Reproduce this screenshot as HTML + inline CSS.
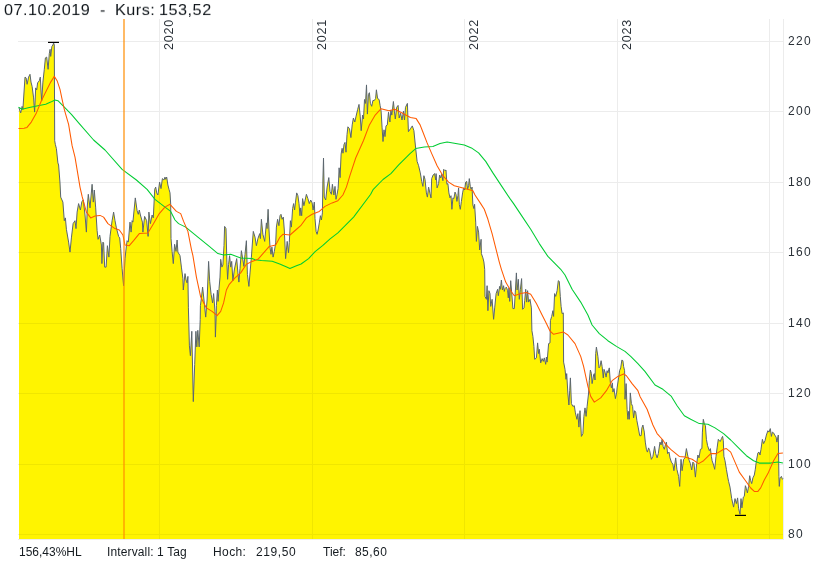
<!DOCTYPE html>
<html><head><meta charset="utf-8"><title>Chart</title>
<style>
html,body{margin:0;padding:0;background:#fff;}
body{width:839px;height:564px;position:relative;overflow:hidden;font-family:"Liberation Sans",sans-serif;color:#333a40;}
.t{position:absolute;white-space:nowrap;line-height:1;will-change:transform;}
.title{font-size:16px;top:3px;color:#10161b;}
.ax{font-size:12px;letter-spacing:1.3px;left:788.2px;color:#2a3138;}
.yr{color:#2a3138;font-size:12.5px;letter-spacing:0.8px;transform-origin:0 0;transform:rotate(-90deg);}
.ft{font-size:12px;top:546px;color:#151b20;}
</style></head><body>
<svg width="839" height="564" viewBox="0 0 839 564" style="position:absolute;left:0;top:0">
<g stroke="#ececec" stroke-width="1" shape-rendering="crispEdges">
<line x1="18" y1="41.5" x2="783" y2="41.5"/>
<line x1="18" y1="111.5" x2="783" y2="111.5"/>
<line x1="18" y1="182.5" x2="783" y2="182.5"/>
<line x1="18" y1="252.5" x2="783" y2="252.5"/>
<line x1="18" y1="323.5" x2="783" y2="323.5"/>
<line x1="18" y1="393.5" x2="783" y2="393.5"/>
<line x1="18" y1="464.5" x2="783" y2="464.5"/>
<line x1="18" y1="534.5" x2="783" y2="534.5"/>
<line x1="159.5" y1="19" x2="159.5" y2="539"/>
<line x1="312.5" y1="19" x2="312.5" y2="539"/>
<line x1="464.5" y1="19" x2="464.5" y2="539"/>
<line x1="617.5" y1="19" x2="617.5" y2="539"/>
<line x1="769.5" y1="19" x2="769.5" y2="539"/>
<line x1="783.5" y1="19" x2="783.5" y2="539"/>
<line x1="18" y1="539.5" x2="784" y2="539.5"/>
</g>
<path d="M19.0,107.9 L20.7,112.9 L22.1,106.4 L22.9,109.3 L25.0,77.1 L26.1,77.9 L27.1,84.3 L28.6,77.1 L30.0,74.3 L31.0,82.1 L32.1,86.4 L33.6,97.9 L34.6,112.1 L35.7,87.9 L36.7,90.0 L37.6,82.9 L39.3,80.7 L40.3,77.1 L41.1,92.1 L41.7,100.7 L42.9,82.1 L44.3,69.3 L45.4,57.9 L46.7,57.1 L48.1,69.3 L49.3,53.6 L50.1,49.3 L50.7,56.4 L51.9,46.4 L52.9,45.0 L53.6,42.9 L54.3,45.0 L54.7,140.7 L55.3,144.3 L56.4,148.6 L57.9,162.9 L58.6,165.0 L60.0,183.0 L60.7,197.1 L62.9,202.1 L64.3,220.7 L65.4,217.9 L66.4,229.3 L68.6,242.1 L70.0,252.1 L71.4,237.9 L73.1,223.6 L75.0,220.7 L76.0,228.6 L77.1,212.1 L78.6,203.6 L80.4,210.0 L81.9,201.4 L83.3,200.0 L85.0,215.0 L86.4,232.1 L87.4,205.0 L88.3,194.3 L90.0,207.9 L92.1,184.3 L93.3,202.1 L94.3,190.0 L95.7,207.9 L97.1,230.7 L98.1,239.3 L99.7,235.0 L101.4,245.0 L101.9,263.6 L102.9,242.1 L103.6,242.9 L104.7,267.1 L106.1,267.1 L107.4,245.7 L108.9,257.1 L110.0,236.4 L112.1,220.7 L113.6,212.1 L115.0,220.7 L116.4,227.9 L118.6,236.4 L119.7,237.9 L120.7,248.6 L122.1,268.6 L123.6,285.7 L125.0,258.6 L126.4,246.0 L127.1,240.7 L128.3,242.1 L130.0,222.1 L131.1,232.1 L132.1,220.7 L132.9,222.1 L135.3,197.9 L137.1,210.7 L138.3,214.3 L139.3,210.0 L140.4,215.0 L142.4,222.1 L142.9,232.1 L144.6,216.4 L146.7,220.7 L148.1,236.4 L148.9,212.1 L150.4,223.6 L152.1,215.0 L153.3,217.9 L154.7,189.3 L155.7,187.1 L156.7,192.9 L157.9,195.0 L159.6,182.1 L161.0,188.6 L162.4,178.6 L163.9,180.0 L165.0,177.1 L165.7,179.3 L166.7,177.1 L167.9,185.0 L169.0,189.3 L170.0,192.9 L170.7,204.3 L171.0,238.6 L172.1,251.4 L173.3,263.6 L174.6,244.3 L176.0,251.4 L177.1,240.0 L177.9,252.1 L180.0,255.7 L181.4,267.1 L182.9,278.6 L183.3,290.0 L184.0,282.9 L185.0,273.6 L186.1,280.0 L187.1,282.9 L187.9,276.4 L188.4,307.8 L189.4,345.9 L190.4,355.7 L191.8,331.3 L193.3,401.6 L194.7,364.5 L195.9,331.3 L196.8,346.9 L197.8,330.3 L199.2,346.9 L200.2,319.5 L200.4,305.7 L201.4,297.9 L202.6,287.1 L204.3,302.9 L205.7,317.1 L207.1,300.0 L208.6,261.4 L209.7,281.4 L211.1,294.3 L212.6,302.9 L213.6,293.6 L215.0,311.4 L215.4,337.1 L216.2,315.6 L216.4,305.7 L217.4,290.0 L218.1,301.4 L219.0,288.6 L220.0,277.1 L220.7,259.3 L221.9,267.1 L222.9,265.0 L224.0,245.7 L224.6,226.4 L226.0,228.6 L226.9,262.9 L227.6,279.3 L228.6,264.3 L229.6,255.7 L230.7,267.1 L231.7,261.4 L232.9,280.7 L234.3,270.0 L235.3,265.0 L236.7,258.6 L237.9,272.9 L238.9,282.1 L240.0,268.6 L241.4,250.7 L242.9,260.0 L243.9,266.4 L245.0,254.3 L246.4,240.7 L247.4,274.3 L248.9,286.4 L250.0,272.9 L251.4,257.1 L252.6,240.0 L253.3,231.4 L255.0,237.1 L256.4,245.7 L257.9,238.6 L259.7,233.6 L260.4,238.6 L261.4,219.3 L262.9,234.3 L264.7,241.4 L266.4,222.9 L267.1,228.6 L268.1,209.3 L269.0,230.0 L270.0,247.1 L271.0,254.3 L271.9,247.1 L273.1,257.1 L274.3,251.4 L275.7,242.9 L276.4,227.1 L277.6,219.3 L278.9,225.7 L280.0,215.7 L281.0,214.3 L282.1,219.3 L283.3,217.1 L284.3,230.0 L285.6,258.6 L287.2,241.4 L288.5,252.7 L289.3,242.5 L290.4,220.7 L291.4,227.1 L292.6,208.6 L293.6,203.6 L294.6,210.0 L295.4,202.9 L296.7,192.9 L297.9,195.7 L299.0,203.6 L300.0,215.7 L300.7,207.9 L301.7,215.7 L302.6,198.6 L303.9,205.7 L305.0,200.7 L306.4,194.3 L307.9,198.6 L309.3,203.6 L310.7,200.0 L312.1,202.9 L313.1,210.0 L314.3,202.1 L315.0,218.6 L316.1,231.4 L317.1,234.3 L318.1,230.0 L319.3,222.9 L320.4,215.7 L321.4,220.0 L322.4,212.9 L322.9,180.0 L323.5,158.0 L324.3,197.1 L325.7,200.0 L327.1,187.1 L328.8,177.6 L330.0,191.4 L331.4,194.3 L332.4,184.3 L333.9,195.0 L335.0,186.4 L336.0,199.3 L337.1,194.3 L338.1,188.6 L338.6,180.0 L339.1,167.8 L340.1,177.6 L341.1,154.1 L342.1,148.3 L343.0,153.2 L344.0,144.4 L345.0,142.4 L346.0,152.2 L347.0,134.6 L347.9,126.8 L349.5,128.8 L350.9,137.6 L352.2,124.9 L353.4,118.0 L354.8,122.0 L356.1,116.1 L357.7,109.3 L359.0,104.4 L360.2,116.1 L361.2,130.7 L362.6,115.1 L363.5,119.0 L364.5,99.5 L365.5,103.4 L366.5,84.9 L367.4,114.1 L368.4,94.6 L369.4,92.7 L370.4,103.4 L371.7,106.3 L372.9,100.5 L374.3,100.5 L375.6,98.5 L376.4,89.8 L377.6,98.5 L379.1,99.5 L380.1,105.4 L381.1,111.2 L382.1,127.8 L383.0,141.5 L384.0,129.8 L385.0,136.6 L386.0,125.9 L387.3,124.9 L388.5,112.2 L389.9,122.0 L390.9,110.2 L391.8,115.1 L393.4,101.5 L394.4,111.2 L395.3,119.0 L396.7,107.3 L398.1,105.4 L399.2,118.0 L400.6,113.2 L402.0,120.0 L403.5,111.2 L404.5,120.0 L405.5,107.3 L407.4,103.4 L408.4,131.7 L410.4,128.8 L412.3,125.9 L413.9,130.7 L415.7,148.6 L417.1,161.4 L418.6,165.7 L420.3,172.9 L421.7,181.4 L422.9,186.4 L423.9,175.7 L425.0,179.3 L426.4,192.9 L427.4,197.1 L428.6,187.1 L430.0,193.6 L431.0,197.9 L431.7,178.6 L433.1,175.0 L434.6,173.6 L435.7,180.0 L436.1,173.6 L437.1,187.9 L438.6,183.6 L439.6,175.0 L440.7,177.9 L441.7,174.3 L442.9,180.7 L443.7,169.3 L445.0,170.7 L446.0,170.0 L446.9,184.3 L447.9,183.6 L448.9,192.9 L450.0,197.9 L451.0,195.7 L451.9,209.3 L452.9,197.9 L453.9,198.6 L455.0,192.1 L456.0,194.3 L456.9,201.4 L457.9,195.7 L458.6,187.9 L459.3,204.3 L460.3,209.3 L461.4,201.4 L462.6,192.9 L463.6,187.9 L464.7,190.0 L465.7,182.1 L466.7,181.4 L467.6,189.3 L468.6,185.7 L469.3,178.6 L470.3,186.4 L471.1,189.3 L472.1,187.1 L472.4,195.0 L472.9,205.0 L473.9,208.6 L474.6,204.3 L475.7,222.1 L476.4,241.4 L477.4,226.4 L478.6,232.1 L479.7,250.0 L481.1,239.3 L481.4,253.6 L482.9,257.9 L483.9,262.0 L484.7,269.3 L485.0,296.4 L486.4,299.3 L487.1,285.7 L487.9,310.7 L488.9,290.7 L490.0,293.6 L490.7,306.4 L492.1,299.3 L493.6,319.3 L494.7,307.9 L496.1,293.6 L497.6,289.3 L498.3,295.7 L499.6,286.4 L500.4,289.3 L501.4,280.0 L502.4,290.0 L503.6,285.7 L504.3,291.4 L505.0,288.6 L506.4,287.1 L507.6,290.7 L508.3,297.9 L509.0,287.9 L509.7,301.4 L510.7,280.7 L511.9,295.0 L512.9,308.6 L514.3,308.6 L515.3,292.1 L516.4,272.9 L517.1,290.0 L518.3,279.3 L519.3,299.3 L520.4,289.3 L521.6,278.6 L522.6,309.3 L524.0,307.9 L524.7,300.7 L525.7,289.3 L526.7,302.1 L527.6,290.7 L528.6,302.1 L530.0,299.3 L531.4,307.9 L531.9,330.7 L532.9,336.4 L533.9,346.4 L534.7,359.3 L536.4,357.9 L537.6,342.9 L538.6,353.6 L539.3,349.3 L540.7,362.9 L542.1,358.6 L543.3,361.4 L544.3,357.9 L545.7,364.3 L546.4,357.1 L547.1,362.1 L548.6,343.6 L550.0,342.9 L550.4,320.7 L551.7,316.4 L552.9,310.7 L553.6,316.4 L554.6,293.6 L555.7,296.4 L557.1,290.7 L558.3,280.7 L559.3,281.4 L560.3,296.4 L561.1,306.4 L562.1,313.6 L563.3,312.9 L563.6,362.1 L565.0,369.3 L566.0,379.3 L566.7,373.6 L567.9,393.6 L568.9,405.0 L569.7,390.7 L570.4,377.9 L571.4,403.6 L572.9,406.4 L574.3,405.7 L575.4,412.9 L576.9,419.3 L577.9,413.6 L578.9,427.1 L580.0,410.7 L581.4,436.4 L582.9,433.6 L583.9,416.4 L585.0,407.9 L586.1,416.4 L587.1,406.4 L588.6,393.0 L589.3,380.7 L590.4,370.0 L591.4,373.6 L592.1,383.6 L593.6,375.0 L594.3,373.6 L595.0,380.0 L595.7,353.6 L596.4,347.1 L597.9,356.4 L599.0,367.9 L600.0,366.4 L601.1,360.7 L602.1,366.4 L603.3,377.9 L604.0,369.3 L605.0,372.1 L606.1,377.1 L607.1,370.7 L607.9,372.9 L609.3,367.9 L610.3,382.1 L611.4,387.9 L612.4,382.9 L612.9,392.1 L614.0,388.6 L615.4,398.6 L616.7,392.1 L617.1,387.9 L618.6,377.9 L619.6,370.7 L620.7,367.9 L621.9,360.0 L622.9,360.7 L623.6,366.4 L624.6,370.7 L625.0,399.3 L626.1,383.6 L627.1,409.3 L627.9,419.3 L628.6,411.4 L629.3,419.3 L630.3,392.9 L631.4,403.6 L632.6,406.4 L633.6,417.9 L634.6,410.7 L635.7,412.1 L636.9,420.7 L638.3,427.9 L639.7,435.7 L641.1,435.7 L641.9,427.9 L642.9,425.0 L644.3,432.1 L645.3,442.1 L646.4,449.3 L647.4,452.1 L648.6,447.9 L649.7,450.7 L651.4,459.3 L652.9,456.4 L654.6,446.4 L655.7,453.6 L657.1,457.9 L658.3,453.6 L660.0,442.1 L661.1,445.0 L662.1,439.3 L663.1,446.4 L664.3,449.3 L665.4,445.0 L666.4,442.1 L667.6,453.6 L669.0,452.1 L670.0,457.9 L671.4,462.1 L672.9,464.3 L673.9,470.7 L675.7,457.9 L676.9,469.3 L678.6,476.4 L679.7,486.4 L681.0,459.3 L682.1,470.7 L683.6,459.3 L685.0,457.9 L686.4,448.6 L687.9,456.4 L689.3,460.7 L690.4,463.6 L691.7,470.0 L692.9,462.1 L694.0,463.6 L695.4,477.1 L696.7,463.6 L697.9,455.0 L699.0,457.9 L700.4,449.3 L701.9,448.6 L702.4,432.1 L703.3,419.3 L704.3,423.6 L705.4,425.7 L706.4,439.3 L707.6,445.7 L709.3,450.7 L710.4,448.6 L711.4,456.4 L712.1,460.7 L713.6,465.0 L714.7,469.3 L716.0,456.4 L717.1,447.9 L718.3,439.3 L719.3,440.7 L720.4,441.4 L721.4,438.6 L722.6,436.4 L723.3,440.7 L723.9,456.4 L725.0,460.7 L726.4,469.3 L727.9,477.9 L728.6,481.4 L730.0,487.1 L731.7,498.6 L733.6,507.1 L735.0,498.6 L736.4,503.6 L737.6,497.9 L738.6,508.6 L740.0,514.3 L741.0,498.6 L741.9,507.9 L743.3,497.1 L744.3,496.4 L745.4,485.7 L746.4,488.6 L747.4,492.9 L748.6,486.4 L749.7,475.7 L750.7,480.7 L751.7,483.6 L752.9,477.9 L754.3,475.0 L755.3,469.3 L756.4,460.7 L757.9,452.9 L759.0,452.1 L760.0,455.0 L761.0,449.3 L762.4,439.3 L763.6,443.6 L765.0,440.7 L766.4,435.0 L767.9,430.7 L769.0,432.1 L770.3,428.6 L771.4,436.4 L772.4,432.1 L773.6,432.9 L774.7,435.0 L776.1,437.1 L776.9,442.1 L778.3,435.0 L778.9,476.4 L779.3,486.4 L780.0,477.9 L781.4,476.4 L782.4,479.3 L783.0,478.6 L783,539 L19,539 Z" fill="#fff400" stroke="none"/>
<g stroke="#f0e600" stroke-width="1" shape-rendering="crispEdges" clip-path="url(#ac)">
<clipPath id="ac"><path d="M19.0,107.9 L20.7,112.9 L22.1,106.4 L22.9,109.3 L25.0,77.1 L26.1,77.9 L27.1,84.3 L28.6,77.1 L30.0,74.3 L31.0,82.1 L32.1,86.4 L33.6,97.9 L34.6,112.1 L35.7,87.9 L36.7,90.0 L37.6,82.9 L39.3,80.7 L40.3,77.1 L41.1,92.1 L41.7,100.7 L42.9,82.1 L44.3,69.3 L45.4,57.9 L46.7,57.1 L48.1,69.3 L49.3,53.6 L50.1,49.3 L50.7,56.4 L51.9,46.4 L52.9,45.0 L53.6,42.9 L54.3,45.0 L54.7,140.7 L55.3,144.3 L56.4,148.6 L57.9,162.9 L58.6,165.0 L60.0,183.0 L60.7,197.1 L62.9,202.1 L64.3,220.7 L65.4,217.9 L66.4,229.3 L68.6,242.1 L70.0,252.1 L71.4,237.9 L73.1,223.6 L75.0,220.7 L76.0,228.6 L77.1,212.1 L78.6,203.6 L80.4,210.0 L81.9,201.4 L83.3,200.0 L85.0,215.0 L86.4,232.1 L87.4,205.0 L88.3,194.3 L90.0,207.9 L92.1,184.3 L93.3,202.1 L94.3,190.0 L95.7,207.9 L97.1,230.7 L98.1,239.3 L99.7,235.0 L101.4,245.0 L101.9,263.6 L102.9,242.1 L103.6,242.9 L104.7,267.1 L106.1,267.1 L107.4,245.7 L108.9,257.1 L110.0,236.4 L112.1,220.7 L113.6,212.1 L115.0,220.7 L116.4,227.9 L118.6,236.4 L119.7,237.9 L120.7,248.6 L122.1,268.6 L123.6,285.7 L125.0,258.6 L126.4,246.0 L127.1,240.7 L128.3,242.1 L130.0,222.1 L131.1,232.1 L132.1,220.7 L132.9,222.1 L135.3,197.9 L137.1,210.7 L138.3,214.3 L139.3,210.0 L140.4,215.0 L142.4,222.1 L142.9,232.1 L144.6,216.4 L146.7,220.7 L148.1,236.4 L148.9,212.1 L150.4,223.6 L152.1,215.0 L153.3,217.9 L154.7,189.3 L155.7,187.1 L156.7,192.9 L157.9,195.0 L159.6,182.1 L161.0,188.6 L162.4,178.6 L163.9,180.0 L165.0,177.1 L165.7,179.3 L166.7,177.1 L167.9,185.0 L169.0,189.3 L170.0,192.9 L170.7,204.3 L171.0,238.6 L172.1,251.4 L173.3,263.6 L174.6,244.3 L176.0,251.4 L177.1,240.0 L177.9,252.1 L180.0,255.7 L181.4,267.1 L182.9,278.6 L183.3,290.0 L184.0,282.9 L185.0,273.6 L186.1,280.0 L187.1,282.9 L187.9,276.4 L188.4,307.8 L189.4,345.9 L190.4,355.7 L191.8,331.3 L193.3,401.6 L194.7,364.5 L195.9,331.3 L196.8,346.9 L197.8,330.3 L199.2,346.9 L200.2,319.5 L200.4,305.7 L201.4,297.9 L202.6,287.1 L204.3,302.9 L205.7,317.1 L207.1,300.0 L208.6,261.4 L209.7,281.4 L211.1,294.3 L212.6,302.9 L213.6,293.6 L215.0,311.4 L215.4,337.1 L216.2,315.6 L216.4,305.7 L217.4,290.0 L218.1,301.4 L219.0,288.6 L220.0,277.1 L220.7,259.3 L221.9,267.1 L222.9,265.0 L224.0,245.7 L224.6,226.4 L226.0,228.6 L226.9,262.9 L227.6,279.3 L228.6,264.3 L229.6,255.7 L230.7,267.1 L231.7,261.4 L232.9,280.7 L234.3,270.0 L235.3,265.0 L236.7,258.6 L237.9,272.9 L238.9,282.1 L240.0,268.6 L241.4,250.7 L242.9,260.0 L243.9,266.4 L245.0,254.3 L246.4,240.7 L247.4,274.3 L248.9,286.4 L250.0,272.9 L251.4,257.1 L252.6,240.0 L253.3,231.4 L255.0,237.1 L256.4,245.7 L257.9,238.6 L259.7,233.6 L260.4,238.6 L261.4,219.3 L262.9,234.3 L264.7,241.4 L266.4,222.9 L267.1,228.6 L268.1,209.3 L269.0,230.0 L270.0,247.1 L271.0,254.3 L271.9,247.1 L273.1,257.1 L274.3,251.4 L275.7,242.9 L276.4,227.1 L277.6,219.3 L278.9,225.7 L280.0,215.7 L281.0,214.3 L282.1,219.3 L283.3,217.1 L284.3,230.0 L285.6,258.6 L287.2,241.4 L288.5,252.7 L289.3,242.5 L290.4,220.7 L291.4,227.1 L292.6,208.6 L293.6,203.6 L294.6,210.0 L295.4,202.9 L296.7,192.9 L297.9,195.7 L299.0,203.6 L300.0,215.7 L300.7,207.9 L301.7,215.7 L302.6,198.6 L303.9,205.7 L305.0,200.7 L306.4,194.3 L307.9,198.6 L309.3,203.6 L310.7,200.0 L312.1,202.9 L313.1,210.0 L314.3,202.1 L315.0,218.6 L316.1,231.4 L317.1,234.3 L318.1,230.0 L319.3,222.9 L320.4,215.7 L321.4,220.0 L322.4,212.9 L322.9,180.0 L323.5,158.0 L324.3,197.1 L325.7,200.0 L327.1,187.1 L328.8,177.6 L330.0,191.4 L331.4,194.3 L332.4,184.3 L333.9,195.0 L335.0,186.4 L336.0,199.3 L337.1,194.3 L338.1,188.6 L338.6,180.0 L339.1,167.8 L340.1,177.6 L341.1,154.1 L342.1,148.3 L343.0,153.2 L344.0,144.4 L345.0,142.4 L346.0,152.2 L347.0,134.6 L347.9,126.8 L349.5,128.8 L350.9,137.6 L352.2,124.9 L353.4,118.0 L354.8,122.0 L356.1,116.1 L357.7,109.3 L359.0,104.4 L360.2,116.1 L361.2,130.7 L362.6,115.1 L363.5,119.0 L364.5,99.5 L365.5,103.4 L366.5,84.9 L367.4,114.1 L368.4,94.6 L369.4,92.7 L370.4,103.4 L371.7,106.3 L372.9,100.5 L374.3,100.5 L375.6,98.5 L376.4,89.8 L377.6,98.5 L379.1,99.5 L380.1,105.4 L381.1,111.2 L382.1,127.8 L383.0,141.5 L384.0,129.8 L385.0,136.6 L386.0,125.9 L387.3,124.9 L388.5,112.2 L389.9,122.0 L390.9,110.2 L391.8,115.1 L393.4,101.5 L394.4,111.2 L395.3,119.0 L396.7,107.3 L398.1,105.4 L399.2,118.0 L400.6,113.2 L402.0,120.0 L403.5,111.2 L404.5,120.0 L405.5,107.3 L407.4,103.4 L408.4,131.7 L410.4,128.8 L412.3,125.9 L413.9,130.7 L415.7,148.6 L417.1,161.4 L418.6,165.7 L420.3,172.9 L421.7,181.4 L422.9,186.4 L423.9,175.7 L425.0,179.3 L426.4,192.9 L427.4,197.1 L428.6,187.1 L430.0,193.6 L431.0,197.9 L431.7,178.6 L433.1,175.0 L434.6,173.6 L435.7,180.0 L436.1,173.6 L437.1,187.9 L438.6,183.6 L439.6,175.0 L440.7,177.9 L441.7,174.3 L442.9,180.7 L443.7,169.3 L445.0,170.7 L446.0,170.0 L446.9,184.3 L447.9,183.6 L448.9,192.9 L450.0,197.9 L451.0,195.7 L451.9,209.3 L452.9,197.9 L453.9,198.6 L455.0,192.1 L456.0,194.3 L456.9,201.4 L457.9,195.7 L458.6,187.9 L459.3,204.3 L460.3,209.3 L461.4,201.4 L462.6,192.9 L463.6,187.9 L464.7,190.0 L465.7,182.1 L466.7,181.4 L467.6,189.3 L468.6,185.7 L469.3,178.6 L470.3,186.4 L471.1,189.3 L472.1,187.1 L472.4,195.0 L472.9,205.0 L473.9,208.6 L474.6,204.3 L475.7,222.1 L476.4,241.4 L477.4,226.4 L478.6,232.1 L479.7,250.0 L481.1,239.3 L481.4,253.6 L482.9,257.9 L483.9,262.0 L484.7,269.3 L485.0,296.4 L486.4,299.3 L487.1,285.7 L487.9,310.7 L488.9,290.7 L490.0,293.6 L490.7,306.4 L492.1,299.3 L493.6,319.3 L494.7,307.9 L496.1,293.6 L497.6,289.3 L498.3,295.7 L499.6,286.4 L500.4,289.3 L501.4,280.0 L502.4,290.0 L503.6,285.7 L504.3,291.4 L505.0,288.6 L506.4,287.1 L507.6,290.7 L508.3,297.9 L509.0,287.9 L509.7,301.4 L510.7,280.7 L511.9,295.0 L512.9,308.6 L514.3,308.6 L515.3,292.1 L516.4,272.9 L517.1,290.0 L518.3,279.3 L519.3,299.3 L520.4,289.3 L521.6,278.6 L522.6,309.3 L524.0,307.9 L524.7,300.7 L525.7,289.3 L526.7,302.1 L527.6,290.7 L528.6,302.1 L530.0,299.3 L531.4,307.9 L531.9,330.7 L532.9,336.4 L533.9,346.4 L534.7,359.3 L536.4,357.9 L537.6,342.9 L538.6,353.6 L539.3,349.3 L540.7,362.9 L542.1,358.6 L543.3,361.4 L544.3,357.9 L545.7,364.3 L546.4,357.1 L547.1,362.1 L548.6,343.6 L550.0,342.9 L550.4,320.7 L551.7,316.4 L552.9,310.7 L553.6,316.4 L554.6,293.6 L555.7,296.4 L557.1,290.7 L558.3,280.7 L559.3,281.4 L560.3,296.4 L561.1,306.4 L562.1,313.6 L563.3,312.9 L563.6,362.1 L565.0,369.3 L566.0,379.3 L566.7,373.6 L567.9,393.6 L568.9,405.0 L569.7,390.7 L570.4,377.9 L571.4,403.6 L572.9,406.4 L574.3,405.7 L575.4,412.9 L576.9,419.3 L577.9,413.6 L578.9,427.1 L580.0,410.7 L581.4,436.4 L582.9,433.6 L583.9,416.4 L585.0,407.9 L586.1,416.4 L587.1,406.4 L588.6,393.0 L589.3,380.7 L590.4,370.0 L591.4,373.6 L592.1,383.6 L593.6,375.0 L594.3,373.6 L595.0,380.0 L595.7,353.6 L596.4,347.1 L597.9,356.4 L599.0,367.9 L600.0,366.4 L601.1,360.7 L602.1,366.4 L603.3,377.9 L604.0,369.3 L605.0,372.1 L606.1,377.1 L607.1,370.7 L607.9,372.9 L609.3,367.9 L610.3,382.1 L611.4,387.9 L612.4,382.9 L612.9,392.1 L614.0,388.6 L615.4,398.6 L616.7,392.1 L617.1,387.9 L618.6,377.9 L619.6,370.7 L620.7,367.9 L621.9,360.0 L622.9,360.7 L623.6,366.4 L624.6,370.7 L625.0,399.3 L626.1,383.6 L627.1,409.3 L627.9,419.3 L628.6,411.4 L629.3,419.3 L630.3,392.9 L631.4,403.6 L632.6,406.4 L633.6,417.9 L634.6,410.7 L635.7,412.1 L636.9,420.7 L638.3,427.9 L639.7,435.7 L641.1,435.7 L641.9,427.9 L642.9,425.0 L644.3,432.1 L645.3,442.1 L646.4,449.3 L647.4,452.1 L648.6,447.9 L649.7,450.7 L651.4,459.3 L652.9,456.4 L654.6,446.4 L655.7,453.6 L657.1,457.9 L658.3,453.6 L660.0,442.1 L661.1,445.0 L662.1,439.3 L663.1,446.4 L664.3,449.3 L665.4,445.0 L666.4,442.1 L667.6,453.6 L669.0,452.1 L670.0,457.9 L671.4,462.1 L672.9,464.3 L673.9,470.7 L675.7,457.9 L676.9,469.3 L678.6,476.4 L679.7,486.4 L681.0,459.3 L682.1,470.7 L683.6,459.3 L685.0,457.9 L686.4,448.6 L687.9,456.4 L689.3,460.7 L690.4,463.6 L691.7,470.0 L692.9,462.1 L694.0,463.6 L695.4,477.1 L696.7,463.6 L697.9,455.0 L699.0,457.9 L700.4,449.3 L701.9,448.6 L702.4,432.1 L703.3,419.3 L704.3,423.6 L705.4,425.7 L706.4,439.3 L707.6,445.7 L709.3,450.7 L710.4,448.6 L711.4,456.4 L712.1,460.7 L713.6,465.0 L714.7,469.3 L716.0,456.4 L717.1,447.9 L718.3,439.3 L719.3,440.7 L720.4,441.4 L721.4,438.6 L722.6,436.4 L723.3,440.7 L723.9,456.4 L725.0,460.7 L726.4,469.3 L727.9,477.9 L728.6,481.4 L730.0,487.1 L731.7,498.6 L733.6,507.1 L735.0,498.6 L736.4,503.6 L737.6,497.9 L738.6,508.6 L740.0,514.3 L741.0,498.6 L741.9,507.9 L743.3,497.1 L744.3,496.4 L745.4,485.7 L746.4,488.6 L747.4,492.9 L748.6,486.4 L749.7,475.7 L750.7,480.7 L751.7,483.6 L752.9,477.9 L754.3,475.0 L755.3,469.3 L756.4,460.7 L757.9,452.9 L759.0,452.1 L760.0,455.0 L761.0,449.3 L762.4,439.3 L763.6,443.6 L765.0,440.7 L766.4,435.0 L767.9,430.7 L769.0,432.1 L770.3,428.6 L771.4,436.4 L772.4,432.1 L773.6,432.9 L774.7,435.0 L776.1,437.1 L776.9,442.1 L778.3,435.0 L778.9,476.4 L779.3,486.4 L780.0,477.9 L781.4,476.4 L782.4,479.3 L783.0,478.6 L783,539 L19,539 Z"/></clipPath>
<line x1="18" y1="41.5" x2="783" y2="41.5"/>
<line x1="18" y1="111.5" x2="783" y2="111.5"/>
<line x1="18" y1="182.5" x2="783" y2="182.5"/>
<line x1="18" y1="252.5" x2="783" y2="252.5"/>
<line x1="18" y1="323.5" x2="783" y2="323.5"/>
<line x1="18" y1="393.5" x2="783" y2="393.5"/>
<line x1="18" y1="464.5" x2="783" y2="464.5"/>
<line x1="18" y1="534.5" x2="783" y2="534.5"/>
<line x1="159.5" y1="19" x2="159.5" y2="539"/>
<line x1="312.5" y1="19" x2="312.5" y2="539"/>
<line x1="464.5" y1="19" x2="464.5" y2="539"/>
<line x1="617.5" y1="19" x2="617.5" y2="539"/>
<line x1="769.5" y1="19" x2="769.5" y2="539"/>
</g>
<path d="M19.0,107.9 L20.7,112.9 L22.1,106.4 L22.9,109.3 L25.0,77.1 L26.1,77.9 L27.1,84.3 L28.6,77.1 L30.0,74.3 L31.0,82.1 L32.1,86.4 L33.6,97.9 L34.6,112.1 L35.7,87.9 L36.7,90.0 L37.6,82.9 L39.3,80.7 L40.3,77.1 L41.1,92.1 L41.7,100.7 L42.9,82.1 L44.3,69.3 L45.4,57.9 L46.7,57.1 L48.1,69.3 L49.3,53.6 L50.1,49.3 L50.7,56.4 L51.9,46.4 L52.9,45.0 L53.6,42.9 L54.3,45.0 L54.7,140.7 L55.3,144.3 L56.4,148.6 L57.9,162.9 L58.6,165.0 L60.0,183.0 L60.7,197.1 L62.9,202.1 L64.3,220.7 L65.4,217.9 L66.4,229.3 L68.6,242.1 L70.0,252.1 L71.4,237.9 L73.1,223.6 L75.0,220.7 L76.0,228.6 L77.1,212.1 L78.6,203.6 L80.4,210.0 L81.9,201.4 L83.3,200.0 L85.0,215.0 L86.4,232.1 L87.4,205.0 L88.3,194.3 L90.0,207.9 L92.1,184.3 L93.3,202.1 L94.3,190.0 L95.7,207.9 L97.1,230.7 L98.1,239.3 L99.7,235.0 L101.4,245.0 L101.9,263.6 L102.9,242.1 L103.6,242.9 L104.7,267.1 L106.1,267.1 L107.4,245.7 L108.9,257.1 L110.0,236.4 L112.1,220.7 L113.6,212.1 L115.0,220.7 L116.4,227.9 L118.6,236.4 L119.7,237.9 L120.7,248.6 L122.1,268.6 L123.6,285.7 L125.0,258.6 L126.4,246.0 L127.1,240.7 L128.3,242.1 L130.0,222.1 L131.1,232.1 L132.1,220.7 L132.9,222.1 L135.3,197.9 L137.1,210.7 L138.3,214.3 L139.3,210.0 L140.4,215.0 L142.4,222.1 L142.9,232.1 L144.6,216.4 L146.7,220.7 L148.1,236.4 L148.9,212.1 L150.4,223.6 L152.1,215.0 L153.3,217.9 L154.7,189.3 L155.7,187.1 L156.7,192.9 L157.9,195.0 L159.6,182.1 L161.0,188.6 L162.4,178.6 L163.9,180.0 L165.0,177.1 L165.7,179.3 L166.7,177.1 L167.9,185.0 L169.0,189.3 L170.0,192.9 L170.7,204.3 L171.0,238.6 L172.1,251.4 L173.3,263.6 L174.6,244.3 L176.0,251.4 L177.1,240.0 L177.9,252.1 L180.0,255.7 L181.4,267.1 L182.9,278.6 L183.3,290.0 L184.0,282.9 L185.0,273.6 L186.1,280.0 L187.1,282.9 L187.9,276.4 L188.4,307.8 L189.4,345.9 L190.4,355.7 L191.8,331.3 L193.3,401.6 L194.7,364.5 L195.9,331.3 L196.8,346.9 L197.8,330.3 L199.2,346.9 L200.2,319.5 L200.4,305.7 L201.4,297.9 L202.6,287.1 L204.3,302.9 L205.7,317.1 L207.1,300.0 L208.6,261.4 L209.7,281.4 L211.1,294.3 L212.6,302.9 L213.6,293.6 L215.0,311.4 L215.4,337.1 L216.2,315.6 L216.4,305.7 L217.4,290.0 L218.1,301.4 L219.0,288.6 L220.0,277.1 L220.7,259.3 L221.9,267.1 L222.9,265.0 L224.0,245.7 L224.6,226.4 L226.0,228.6 L226.9,262.9 L227.6,279.3 L228.6,264.3 L229.6,255.7 L230.7,267.1 L231.7,261.4 L232.9,280.7 L234.3,270.0 L235.3,265.0 L236.7,258.6 L237.9,272.9 L238.9,282.1 L240.0,268.6 L241.4,250.7 L242.9,260.0 L243.9,266.4 L245.0,254.3 L246.4,240.7 L247.4,274.3 L248.9,286.4 L250.0,272.9 L251.4,257.1 L252.6,240.0 L253.3,231.4 L255.0,237.1 L256.4,245.7 L257.9,238.6 L259.7,233.6 L260.4,238.6 L261.4,219.3 L262.9,234.3 L264.7,241.4 L266.4,222.9 L267.1,228.6 L268.1,209.3 L269.0,230.0 L270.0,247.1 L271.0,254.3 L271.9,247.1 L273.1,257.1 L274.3,251.4 L275.7,242.9 L276.4,227.1 L277.6,219.3 L278.9,225.7 L280.0,215.7 L281.0,214.3 L282.1,219.3 L283.3,217.1 L284.3,230.0 L285.6,258.6 L287.2,241.4 L288.5,252.7 L289.3,242.5 L290.4,220.7 L291.4,227.1 L292.6,208.6 L293.6,203.6 L294.6,210.0 L295.4,202.9 L296.7,192.9 L297.9,195.7 L299.0,203.6 L300.0,215.7 L300.7,207.9 L301.7,215.7 L302.6,198.6 L303.9,205.7 L305.0,200.7 L306.4,194.3 L307.9,198.6 L309.3,203.6 L310.7,200.0 L312.1,202.9 L313.1,210.0 L314.3,202.1 L315.0,218.6 L316.1,231.4 L317.1,234.3 L318.1,230.0 L319.3,222.9 L320.4,215.7 L321.4,220.0 L322.4,212.9 L322.9,180.0 L323.5,158.0 L324.3,197.1 L325.7,200.0 L327.1,187.1 L328.8,177.6 L330.0,191.4 L331.4,194.3 L332.4,184.3 L333.9,195.0 L335.0,186.4 L336.0,199.3 L337.1,194.3 L338.1,188.6 L338.6,180.0 L339.1,167.8 L340.1,177.6 L341.1,154.1 L342.1,148.3 L343.0,153.2 L344.0,144.4 L345.0,142.4 L346.0,152.2 L347.0,134.6 L347.9,126.8 L349.5,128.8 L350.9,137.6 L352.2,124.9 L353.4,118.0 L354.8,122.0 L356.1,116.1 L357.7,109.3 L359.0,104.4 L360.2,116.1 L361.2,130.7 L362.6,115.1 L363.5,119.0 L364.5,99.5 L365.5,103.4 L366.5,84.9 L367.4,114.1 L368.4,94.6 L369.4,92.7 L370.4,103.4 L371.7,106.3 L372.9,100.5 L374.3,100.5 L375.6,98.5 L376.4,89.8 L377.6,98.5 L379.1,99.5 L380.1,105.4 L381.1,111.2 L382.1,127.8 L383.0,141.5 L384.0,129.8 L385.0,136.6 L386.0,125.9 L387.3,124.9 L388.5,112.2 L389.9,122.0 L390.9,110.2 L391.8,115.1 L393.4,101.5 L394.4,111.2 L395.3,119.0 L396.7,107.3 L398.1,105.4 L399.2,118.0 L400.6,113.2 L402.0,120.0 L403.5,111.2 L404.5,120.0 L405.5,107.3 L407.4,103.4 L408.4,131.7 L410.4,128.8 L412.3,125.9 L413.9,130.7 L415.7,148.6 L417.1,161.4 L418.6,165.7 L420.3,172.9 L421.7,181.4 L422.9,186.4 L423.9,175.7 L425.0,179.3 L426.4,192.9 L427.4,197.1 L428.6,187.1 L430.0,193.6 L431.0,197.9 L431.7,178.6 L433.1,175.0 L434.6,173.6 L435.7,180.0 L436.1,173.6 L437.1,187.9 L438.6,183.6 L439.6,175.0 L440.7,177.9 L441.7,174.3 L442.9,180.7 L443.7,169.3 L445.0,170.7 L446.0,170.0 L446.9,184.3 L447.9,183.6 L448.9,192.9 L450.0,197.9 L451.0,195.7 L451.9,209.3 L452.9,197.9 L453.9,198.6 L455.0,192.1 L456.0,194.3 L456.9,201.4 L457.9,195.7 L458.6,187.9 L459.3,204.3 L460.3,209.3 L461.4,201.4 L462.6,192.9 L463.6,187.9 L464.7,190.0 L465.7,182.1 L466.7,181.4 L467.6,189.3 L468.6,185.7 L469.3,178.6 L470.3,186.4 L471.1,189.3 L472.1,187.1 L472.4,195.0 L472.9,205.0 L473.9,208.6 L474.6,204.3 L475.7,222.1 L476.4,241.4 L477.4,226.4 L478.6,232.1 L479.7,250.0 L481.1,239.3 L481.4,253.6 L482.9,257.9 L483.9,262.0 L484.7,269.3 L485.0,296.4 L486.4,299.3 L487.1,285.7 L487.9,310.7 L488.9,290.7 L490.0,293.6 L490.7,306.4 L492.1,299.3 L493.6,319.3 L494.7,307.9 L496.1,293.6 L497.6,289.3 L498.3,295.7 L499.6,286.4 L500.4,289.3 L501.4,280.0 L502.4,290.0 L503.6,285.7 L504.3,291.4 L505.0,288.6 L506.4,287.1 L507.6,290.7 L508.3,297.9 L509.0,287.9 L509.7,301.4 L510.7,280.7 L511.9,295.0 L512.9,308.6 L514.3,308.6 L515.3,292.1 L516.4,272.9 L517.1,290.0 L518.3,279.3 L519.3,299.3 L520.4,289.3 L521.6,278.6 L522.6,309.3 L524.0,307.9 L524.7,300.7 L525.7,289.3 L526.7,302.1 L527.6,290.7 L528.6,302.1 L530.0,299.3 L531.4,307.9 L531.9,330.7 L532.9,336.4 L533.9,346.4 L534.7,359.3 L536.4,357.9 L537.6,342.9 L538.6,353.6 L539.3,349.3 L540.7,362.9 L542.1,358.6 L543.3,361.4 L544.3,357.9 L545.7,364.3 L546.4,357.1 L547.1,362.1 L548.6,343.6 L550.0,342.9 L550.4,320.7 L551.7,316.4 L552.9,310.7 L553.6,316.4 L554.6,293.6 L555.7,296.4 L557.1,290.7 L558.3,280.7 L559.3,281.4 L560.3,296.4 L561.1,306.4 L562.1,313.6 L563.3,312.9 L563.6,362.1 L565.0,369.3 L566.0,379.3 L566.7,373.6 L567.9,393.6 L568.9,405.0 L569.7,390.7 L570.4,377.9 L571.4,403.6 L572.9,406.4 L574.3,405.7 L575.4,412.9 L576.9,419.3 L577.9,413.6 L578.9,427.1 L580.0,410.7 L581.4,436.4 L582.9,433.6 L583.9,416.4 L585.0,407.9 L586.1,416.4 L587.1,406.4 L588.6,393.0 L589.3,380.7 L590.4,370.0 L591.4,373.6 L592.1,383.6 L593.6,375.0 L594.3,373.6 L595.0,380.0 L595.7,353.6 L596.4,347.1 L597.9,356.4 L599.0,367.9 L600.0,366.4 L601.1,360.7 L602.1,366.4 L603.3,377.9 L604.0,369.3 L605.0,372.1 L606.1,377.1 L607.1,370.7 L607.9,372.9 L609.3,367.9 L610.3,382.1 L611.4,387.9 L612.4,382.9 L612.9,392.1 L614.0,388.6 L615.4,398.6 L616.7,392.1 L617.1,387.9 L618.6,377.9 L619.6,370.7 L620.7,367.9 L621.9,360.0 L622.9,360.7 L623.6,366.4 L624.6,370.7 L625.0,399.3 L626.1,383.6 L627.1,409.3 L627.9,419.3 L628.6,411.4 L629.3,419.3 L630.3,392.9 L631.4,403.6 L632.6,406.4 L633.6,417.9 L634.6,410.7 L635.7,412.1 L636.9,420.7 L638.3,427.9 L639.7,435.7 L641.1,435.7 L641.9,427.9 L642.9,425.0 L644.3,432.1 L645.3,442.1 L646.4,449.3 L647.4,452.1 L648.6,447.9 L649.7,450.7 L651.4,459.3 L652.9,456.4 L654.6,446.4 L655.7,453.6 L657.1,457.9 L658.3,453.6 L660.0,442.1 L661.1,445.0 L662.1,439.3 L663.1,446.4 L664.3,449.3 L665.4,445.0 L666.4,442.1 L667.6,453.6 L669.0,452.1 L670.0,457.9 L671.4,462.1 L672.9,464.3 L673.9,470.7 L675.7,457.9 L676.9,469.3 L678.6,476.4 L679.7,486.4 L681.0,459.3 L682.1,470.7 L683.6,459.3 L685.0,457.9 L686.4,448.6 L687.9,456.4 L689.3,460.7 L690.4,463.6 L691.7,470.0 L692.9,462.1 L694.0,463.6 L695.4,477.1 L696.7,463.6 L697.9,455.0 L699.0,457.9 L700.4,449.3 L701.9,448.6 L702.4,432.1 L703.3,419.3 L704.3,423.6 L705.4,425.7 L706.4,439.3 L707.6,445.7 L709.3,450.7 L710.4,448.6 L711.4,456.4 L712.1,460.7 L713.6,465.0 L714.7,469.3 L716.0,456.4 L717.1,447.9 L718.3,439.3 L719.3,440.7 L720.4,441.4 L721.4,438.6 L722.6,436.4 L723.3,440.7 L723.9,456.4 L725.0,460.7 L726.4,469.3 L727.9,477.9 L728.6,481.4 L730.0,487.1 L731.7,498.6 L733.6,507.1 L735.0,498.6 L736.4,503.6 L737.6,497.9 L738.6,508.6 L740.0,514.3 L741.0,498.6 L741.9,507.9 L743.3,497.1 L744.3,496.4 L745.4,485.7 L746.4,488.6 L747.4,492.9 L748.6,486.4 L749.7,475.7 L750.7,480.7 L751.7,483.6 L752.9,477.9 L754.3,475.0 L755.3,469.3 L756.4,460.7 L757.9,452.9 L759.0,452.1 L760.0,455.0 L761.0,449.3 L762.4,439.3 L763.6,443.6 L765.0,440.7 L766.4,435.0 L767.9,430.7 L769.0,432.1 L770.3,428.6 L771.4,436.4 L772.4,432.1 L773.6,432.9 L774.7,435.0 L776.1,437.1 L776.9,442.1 L778.3,435.0 L778.9,476.4 L779.3,486.4 L780.0,477.9 L781.4,476.4 L782.4,479.3 L783.0,478.6" fill="none" stroke="#5a656f" stroke-width="1" stroke-linejoin="round"/>
<path d="M18.5,107.2 L22.1,109.3 L29.3,107.6 L37.9,105.7 L45.7,104.3 L50.7,102.1 L55.0,100.0 L57.9,100.7 L63.6,106.4 L71.4,114.3 L79.3,123.6 L93.6,140.0 L105.0,150.0 L122.1,169.3 L136.4,180.0 L147.1,189.3 L155.0,199.3 L165.0,207.1 L170.7,211.4 L175.0,220.0 L178.6,223.6 L185.7,227.1 L197.9,237.1 L209.3,246.4 L217.9,253.6 L223.6,255.0 L230.7,254.3 L240.7,257.9 L252.1,258.6 L255.0,259.7 L261.4,260.5 L272.2,261.3 L279.7,264.0 L286.1,266.7 L289.9,268.5 L295.8,266.1 L301.1,264.0 L308.6,258.6 L315.1,251.6 L322.6,245.7 L330.1,238.8 L337.9,232.9 L353.6,217.1 L370.7,194.3 L373.3,189.3 L383.0,179.5 L390.9,173.7 L398.7,164.9 L406.5,157.1 L410.0,153.6 L415.7,148.6 L424.3,147.1 L432.9,146.4 L440.0,143.6 L447.1,142.1 L452.9,142.9 L464.3,145.0 L471.4,147.9 L478.6,152.9 L485.7,161.4 L492.9,172.9 L500.0,183.6 L510.0,198.6 L513.6,203.6 L522.1,216.4 L530.7,229.3 L539.3,243.6 L547.9,256.4 L552.1,260.7 L560.7,269.3 L565.0,275.0 L572.1,289.3 L580.7,302.1 L587.9,315.0 L592.1,325.0 L599.3,333.6 L607.9,340.7 L616.4,346.4 L625.0,351.4 L630.7,356.4 L637.9,363.6 L644.9,371.4 L655.0,385.0 L662.9,389.3 L671.4,396.4 L677.1,405.7 L684.3,415.7 L690.7,419.3 L699.3,423.6 L707.9,424.3 L715.0,427.9 L723.6,433.6 L730.7,440.0 L739.3,448.6 L746.4,455.7 L753.6,460.7 L759.3,463.1 L770.7,463.1 L777.9,462.1 L782.9,463.1" fill="none" stroke="#00cc33" stroke-width="1.05" stroke-linejoin="round"/>
<path d="M18.5,128.5 L24.0,128.2 L27.0,127.4 L31.3,122.1 L36.4,112.9 L41.4,100.7 L45.7,92.1 L50.7,82.1 L54.3,76.4 L57.1,80.7 L60.0,89.3 L62.1,99.3 L64.3,109.3 L65.7,114.3 L68.6,124.3 L72.1,145.7 L75.0,157.1 L80.0,187.1 L82.1,196.4 L86.4,212.1 L90.7,217.9 L95.0,216.0 L100.0,215.4 L103.6,217.1 L107.9,223.6 L115.0,228.6 L119.3,230.0 L122.9,235.0 L125.0,245.0 L129.3,245.7 L133.6,240.7 L139.3,233.6 L147.9,232.9 L153.6,223.6 L159.3,213.6 L164.9,207.1 L170.0,204.3 L176.4,211.4 L180.7,213.6 L183.6,221.4 L187.9,231.4 L191.4,249.3 L192.9,255.7 L196.4,277.1 L200.7,297.1 L206.4,307.9 L212.1,311.4 L217.1,315.7 L220.7,311.4 L223.6,302.9 L226.4,290.0 L229.3,284.3 L235.0,277.9 L240.7,272.9 L246.4,264.3 L252.1,261.4 L257.9,259.3 L263.6,252.9 L269.3,246.4 L275.7,245.0 L280.0,237.1 L282.9,234.3 L290.0,235.0 L295.7,230.0 L300.7,225.7 L306.4,217.9 L312.1,214.3 L319.3,211.4 L325.0,206.4 L332.1,202.9 L337.9,200.7 L342.9,195.0 L346.4,187.1 L349.9,175.6 L355.7,158.0 L363.5,140.5 L369.4,124.9 L375.2,115.1 L381.1,108.7 L388.9,110.8 L394.8,109.3 L402.6,113.2 L410.4,117.5 L416.2,118.6 L420.1,124.9 L422.1,130.0 L427.1,142.9 L431.4,152.9 L437.1,165.7 L442.9,175.7 L448.6,182.1 L454.3,185.7 L462.9,187.9 L472.9,190.7 L475.0,195.0 L480.7,203.6 L484.3,209.3 L487.9,219.3 L492.1,233.6 L495.7,247.9 L499.3,262.1 L501.4,269.3 L505.7,282.1 L510.7,290.7 L514.3,295.7 L520.7,293.6 L526.4,292.4 L530.7,294.3 L536.4,303.6 L542.1,315.0 L546.4,323.6 L550.0,331.0 L553.6,334.3 L557.9,333.3 L563.6,332.1 L567.9,335.0 L575.0,343.6 L580.7,356.4 L583.6,366.4 L587.9,386.4 L590.7,396.4 L594.3,402.1 L600.7,397.9 L606.4,390.7 L612.1,380.7 L617.9,376.4 L623.6,373.9 L626.4,375.7 L632.1,383.6 L637.9,390.7 L640.0,396.4 L647.1,409.3 L652.9,425.0 L657.1,433.6 L662.9,440.0 L665.0,443.6 L670.7,449.3 L679.3,456.4 L685.0,457.1 L692.1,459.3 L698.6,463.6 L703.6,460.7 L710.7,453.6 L716.4,453.6 L723.6,449.3 L726.4,448.6 L730.7,452.1 L735.0,462.1 L739.3,472.1 L745.0,480.0 L750.7,488.0 L754.3,491.4 L757.9,491.4 L760.7,487.9 L764.3,480.0 L767.9,473.6 L773.6,460.7 L777.9,453.6 L782.9,453.1" fill="none" stroke="#ff5a00" stroke-width="1.05" stroke-linejoin="round"/>
<line x1="124" y1="19" x2="124" y2="539" stroke="#ff8c00" stroke-opacity="0.6" stroke-width="2"/>
<line x1="48" y1="42.4" x2="59" y2="42.4" stroke="#000" stroke-width="1.2"/>
<line x1="735" y1="515.4" x2="746" y2="515.4" stroke="#000" stroke-width="1.2"/>
</svg>
<div class="t title" style="left:3.80px;letter-spacing:0.5px;transform-origin:0 0;transform:scale(1.0131,0.93)">07.10.2019</div>
<div class="t title" style="left:100.10px;letter-spacing:0.5px;transform-origin:0 0;transform:scale(1.0000,0.93)">-</div>
<div class="t title" style="left:114.79px;letter-spacing:0.5px;transform-origin:0 0;transform:scale(1.0135,0.93)">Kurs:</div>
<div class="t title" style="left:158.79px;letter-spacing:0.5px;transform-origin:0 0;transform:scale(1.0140,0.93)">153,52</div>
<div class="t ax" style="top:35.0px">220</div>
<div class="t ax" style="top:105.0px">200</div>
<div class="t ax" style="top:176.0px">180</div>
<div class="t ax" style="top:246.0px">160</div>
<div class="t ax" style="top:317.0px">140</div>
<div class="t ax" style="top:387.0px">120</div>
<div class="t ax" style="top:458.0px">100</div>
<div class="t ax" style="top:528.0px">80</div>
<div class="t yr" style="left:162.7px;top:49.8px">2020</div>
<div class="t yr" style="left:315.7px;top:49.8px">2021</div>
<div class="t yr" style="left:467.7px;top:49.8px">2022</div>
<div class="t yr" style="left:620.7px;top:49.8px">2023</div>
<div class="t ft" style="left:18.6px">156,43%HL</div>
<div class="t ft" style="left:107.3px;letter-spacing:0.13px">Intervall: 1 Tag</div>
<div class="t ft" style="left:213.3px;letter-spacing:0.4px">Hoch:</div>
<div class="t ft" style="left:256.2px;letter-spacing:0.6px">219,50</div>
<div class="t ft" style="left:323px">Tief:</div>
<div class="t ft" style="left:354.5px;letter-spacing:0.45px">85,60</div>
</body></html>
